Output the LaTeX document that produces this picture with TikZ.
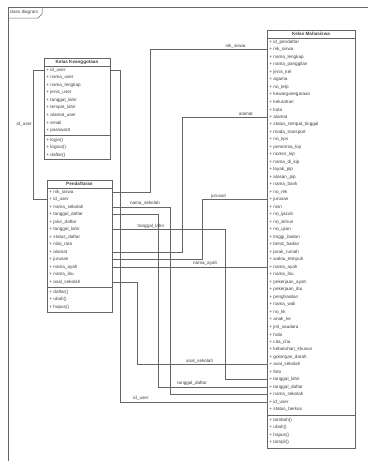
\documentclass[tikz,border=0pt]{standalone}
\usepackage{fontspec}
\newfontfamily\umlfont{Liberation Sans}

\begin{document}
\begin{tikzpicture}[x=1pt, y=-1pt, line width=0.5pt,
    every node/.style={font=\umlfont\fontsize{4.6}{5}\selectfont, text=black!75},
    box/.style={draw=black!60, fill=white},
    title/.style={font=\umlfont\bfseries\fontsize{4.6}{5}\selectfont},
    row/.style={anchor=west, inner sep=0pt, inner xsep=2pt, minimum height=7pt, align=left},
    link/.style={draw=black!60},
    lbl/.style={above, inner sep=1pt}]
      \useasboundingbox (0,0) rectangle (368,461);
      % diagram frame
      \draw[black!60] (8,461) -- (8,7) -- (368,7);
      \draw[black!60] (8,18) -- (38,18) -- (42,14) -- (42,7);
      \node[inner sep=0pt] (frame) at (24,12.5) {class diagram};
      % Kelas Keanggotaan
      \draw[box] (44,58) rectangle (110,159);
      \node[title] (kttl) at (77,62) {Kelas Keanggotaan};
      \draw[black!60] (44,66) -- (110,66);
      \foreach \a [count=\i] in {id\_user, nama\_user, nama\_lengkap, jenis\_user, tanggal\_lahir, tempat\_lahir, alamat\_user, email, password}
        \node[row, text width=62pt] (k\i) at (44,{70+7.5*(\i-1)}) {+ \a};
      \draw[black!60] (44,135) -- (110,135);
      \foreach \a [count=\i] in {login(), logout(), daftar()}
        \node[row, text width=62pt] (km\i) at (44,{140+7.5*(\i-1)}) {+ \a};
      % Pendaftaran
      \draw[box] (47,180) rectangle (112,312);
      \node[title] (pttl) at (79.5,184) {Pendaftaran};
      \draw[black!60] (47,188) -- (112,188);
      \foreach \a [count=\i] in {nik\_siswa, id\_user, nama\_sekolah, tanggal\_daftar, jalur\_daftar, tanggal\_lahir, status\_daftar, nilai\_rata, alamat, jurusan, nama\_ayah, nama\_ibu, asal\_sekolah}
        \node[row, text width=61pt] (p\i) at (47,{192+7.5*(\i-1)}) {+ \a};
      \draw[black!60] (47,287) -- (112,287);
      \foreach \a [count=\i] in {daftar(), ubah(), hapus()}
        \node[row, text width=61pt] (pm\i) at (47,{292+7.5*(\i-1)}) {+ \a};
      % Kelas Mahasiswa
      \draw[box] (267,30) rectangle (355,448);
      \node[title] (sttl) at (311,34) {Kelas Mahasiswa};
      \draw[black!60] (267,38) -- (355,38);
      \foreach \a [count=\i] in {id\_pendaftar, nik\_siswa, nama\_lengkap, nama\_panggilan, jenis\_kel, agama, no\_telp, kewarganegaraan, kelurahan, kota, alamat, status\_tempat\_tinggal, moda\_transport, no\_kps, penerima\_kip, nomor\_kip, nama\_di\_kip, layak\_pip, alasan\_pip, nama\_bank, no\_rek, jurusan, nisn, no\_ijazah, no\_skhun, no\_ujian, tinggi\_badan, berat\_badan, jarak\_rumah, waktu\_tempuh, nama\_ayah, nama\_ibu, pekerjaan\_ayah, pekerjaan\_ibu, penghasilan, nama\_wali, no\_kk, anak\_ke, jml\_saudara, hobi, cita\_cita, kebutuhan\_khusus, golongan\_darah, asal\_sekolah, foto, tanggal\_lahir, tanggal\_daftar, nama\_sekolah, id\_user, status\_berkas}
        \node[row, text width=84pt] (s\i) at (267,{42+7.5*(\i-1)}) {+ \a};
      \draw[black!60] (267,415) -- (355,415);
      \foreach \a [count=\i] in {tambah(), ubah(), hapus(), tampil()}
        \node[row, text width=84pt] (sm\i) at (267,{420+7.5*(\i-1)}) {+ \a};
      % relations
      \draw[link] (k1.west) -- ++(-11,0) |- (p2.west) node[left, inner sep=1pt, pos=0.21] {id\_user};
      \draw[link] (k1.east) -- ++(10,0) |- (s49.west) node[lbl, pos=0.57] {id\_user};
      \draw[link] (p1.east) -- ++(38,0) |- (s2.west) node[lbl, pos=0.865] {nik\_siswa};
      \draw[link] (p3.east) -- node[lbl, pos=0.56] {nama\_sekolah} ++(58,0) |- (s48.west);
      \draw[link] (p4.east) -- ++(46,0) |- (s47.west) node[lbl, pos=0.655] {tanggal\_daftar};
      \draw[link] (p6.east) -- node[lbl, pos=0.34] {tanggal\_lahir} ++(113,0) |- (s46.west);
      \draw[link] (p9.east) -- ++(70,0) |- (s11.west) node[lbl, pos=0.875] {alamat};
      \draw[link] (p10.east) -- ++(90,0) |- (s22.west) node[lbl, pos=0.625] {jurusan};
      \draw[link] (p11.east) -- node[lbl, pos=0.6] {nama\_ayah} (s31.west);
      \draw[link] (p13.east) -- ++(25,0) |- (s44.west) node[lbl, pos=0.74] {asal\_sekolah};
    \end{tikzpicture}
\end{document}
